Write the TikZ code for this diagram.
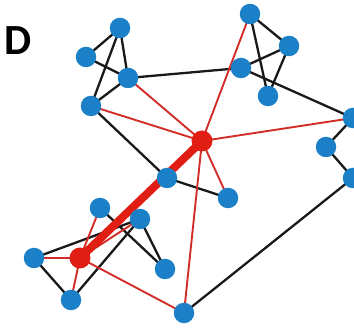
\documentclass[tikz,border=0pt]{standalone}
\usepackage{fontspec}
\setsansfont{Carlito}
\usetikzlibrary{backgrounds}
\definecolor{nodeblue}{RGB}{28,128,200}
\definecolor{hubred}{RGB}{225,30,20}
\definecolor{linkred}{RGB}{210,45,40}

\begin{document}
\begin{tikzpicture}[x=1pt,y=-1pt,
		bnode/.style={circle,fill=nodeblue,inner sep=0pt,minimum size=20.5pt},
		rnode/.style={circle,fill=hubred,inner sep=0pt,minimum size=21pt},
		blk/.style={black!90,line width=2.3pt},
		rlink/.style={linkred,line width=1.9pt}]
		\useasboundingbox (0,0) rectangle (354,328);
		\node at (18,41) {\sffamily\bfseries\fontsize{43}{43}\selectfont D};
		% blue nodes
		\foreach \n/\x/\y in {a1/120/28,a2/86/57,a3/128/78,a4/91/106,
			b1/250/14,b2/241/68,b3/289/46,b4/268/96,
			e1/353/118,e2/326/147,e3/353/178,c/167/178,d/228/198,
			g1/100/208,g2/140/219,g3/34/258,g4/71/300,g5/165/269,f/184/313}{
			\node[bnode] (\n) at (\x,\y) {};
		}
		% red nodes
		\node[rnode] (hub) at (202,141) {};
		\node[rnode] (r) at (80,258) {};
		\begin{scope}[on background layer]
			\foreach \s/\t in {a1/a2,a1/a3,a1/a4,a2/a3,a3/a4,a3/b2,a4/c,c/d,
				b1/b3,b1/b4,b3/b2,b3/b4,b2/e1,e1/e2,e2/e3,e3/f,
				g1/g5,g2/g5,g3/g2,g3/g4,g4/g2}{
				\draw[blk] (\s.center)--(\t.center);
			}
			\foreach \s/\t in {hub/a3,hub/a4,hub/b1,hub/e1,hub/d,hub/f,
				r/g1,r/g2,r/g3,r/g4,r/f}{
				\draw[rlink] (\s.center)--(\t.center);
			}
			\draw[hubred,line width=8pt] (r.center)--(hub.center);
		\end{scope}
	\end{tikzpicture}
\end{document}
